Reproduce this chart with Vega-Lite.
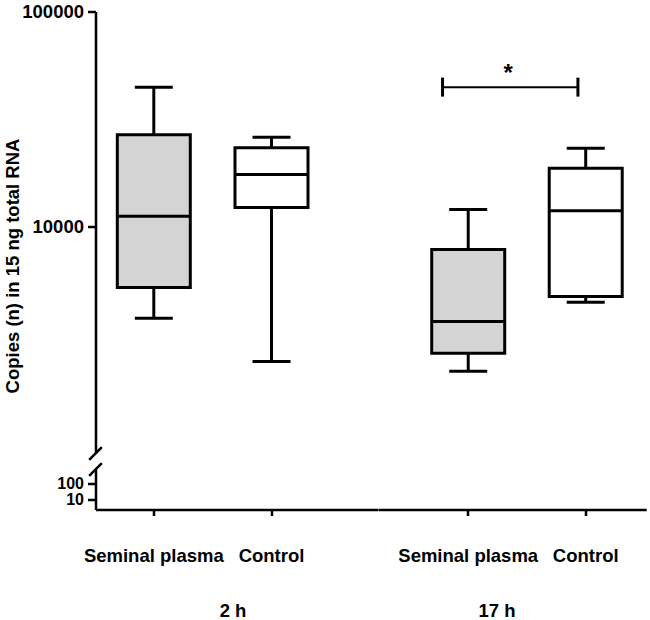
{
  "$schema": "https://vega.github.io/schema/vega-lite/v6.json",
  "background": "white",
  "padding": {"left": 3.5, "top": 2.5, "right": 0, "bottom": 0},
  "config": {
    "view": {"stroke": null},
    "font": "Liberation Sans",
    "axis": {
      "labelFont": "Liberation Sans", "labelFontWeight": "bold", "labelFontSize": 18.5, "labelColor": "black",
      "titleFont": "Liberation Sans", "titleFontWeight": "bold", "titleFontSize": 18.5, "titleColor": "black",
      "domainColor": "black", "domainWidth": 2.5, "tickColor": "black", "tickWidth": 2.5, "grid": false
    }
  },
  "datasets": {
    "boxes": [
      {"time": "2 h", "treatment": "Seminal plasma", "min": 3775, "q1": 5240, "median": 11220, "q3": 26790, "max": 44540},
      {"time": "2 h", "treatment": "Control", "min": 2376, "q1": 12315, "median": 17520, "q3": 23310, "max": 26100},
      {"time": "17 h", "treatment": "Seminal plasma", "min": 2142, "q1": 2597, "median": 3643, "q3": 7863, "max": 12055},
      {"time": "17 h", "treatment": "Control", "min": 4477, "q1": 4760, "median": 11890, "q3": 18750, "max": 23210}
    ],
    "sig": [
      {"time": "17 h", "from": "Seminal plasma", "to": "Control", "y": 44570, "label": "*"}
    ],
    "axisbreak": [
      {"mark": "axis break"}
    ]
  },
  "columns": 2,
  "spacing": {"row": 16, "column": 0},
  "bounds": "flush",
  "resolve": {"scale": {"x": "independent", "y": "independent", "fill": "independent"}},
  "concat": [
    {
      "width": 282.6,
      "height": 442,
      "layer": [
        {
          "data": {"name": "boxes"},
          "transform": [{"filter": "datum.time === '2 h'"}],
          "encoding": {
            "x": {"field": "treatment", "type": "nominal", "scale": {"type": "band", "domain": ["Seminal plasma", "Control"], "paddingInner": 0.35, "paddingOuter": 0.3755, "align": 0.2268}, "axis": null}
          },
          "layer": [
            {
              "mark": {"type": "rule", "strokeWidth": 3, "color": "black"},
              "encoding": {
                "y": {"field": "min", "type": "quantitative", "title": "Copies (n) in 15 ng total RNA",
                  "scale": {"type": "log", "domain": [889, 100000], "nice": false},
                  "axis": {"values": [10000, 100000], "format": "d", "tickSize": 8, "labelPadding": 4, "titlePadding": -1, "titleY": 254}},
                "y2": {"field": "max"}
              }
            },
            {
              "mark": {"type": "bar", "width": 73, "stroke": "black", "strokeWidth": 3},
              "encoding": {
                "y": {"field": "q1", "type": "quantitative", "title": "Copies (n) in 15 ng total RNA"},
                "y2": {"field": "q3"},
                "fill": {"field": "treatment", "type": "nominal", "scale": {"domain": ["Seminal plasma", "Control"], "range": ["#d4d4d4", "#ffffff"]}, "legend": null}
              }
            },
            {
              "mark": {"type": "tick", "size": 73, "thickness": 3, "color": "black", "opacity": 1},
              "encoding": {"y": {"field": "median", "type": "quantitative", "title": "Copies (n) in 15 ng total RNA"}}
            },
            {
              "mark": {"type": "tick", "size": 38, "thickness": 3, "color": "black", "opacity": 1},
              "encoding": {"y": {"field": "min", "type": "quantitative", "title": "Copies (n) in 15 ng total RNA"}}
            },
            {
              "mark": {"type": "tick", "size": 38, "thickness": 3, "color": "black", "opacity": 1},
              "encoding": {"y": {"field": "max", "type": "quantitative", "title": "Copies (n) in 15 ng total RNA"}}
            }
          ]
        },
        {
          "data": {"name": "axisbreak"},
          "mark": {"type": "point", "shape": "M-1,1L1,-1", "size": 160, "filled": false, "stroke": "black", "strokeWidth": 2.5, "opacity": 1},
          "encoding": {
            "x": {"datum": "Seminal plasma", "bandPosition": -0.262},
            "y": {"datum": 889, "type": "quantitative", "title": "Copies (n) in 15 ng total RNA"}
          }
        }
      ]
    },
    {
      "width": 267.7,
      "height": 442,
      "layer": [
        {
          "data": {"name": "boxes"},
          "transform": [{"filter": "datum.time === '17 h'"}],
          "layer": [
            {
              "mark": {"type": "rule", "strokeWidth": 3, "color": "black"},
              "encoding": {
                "x": {"field": "treatment", "type": "nominal", "scale": {"type": "band", "domain": ["Seminal plasma", "Control"], "paddingInner": 0.35, "paddingOuter": 0.3141, "align": 0.698}, "axis": null},
                "y": {"field": "min", "type": "quantitative", "scale": {"type": "log", "domain": [889, 100000], "nice": false}, "axis": null},
                "y2": {"field": "max"}
              }
            },
            {
              "mark": {"type": "bar", "width": 73, "stroke": "black", "strokeWidth": 3},
              "encoding": {
                "x": {"field": "treatment", "type": "nominal"},
                "y": {"field": "q1", "type": "quantitative"},
                "y2": {"field": "q3"},
                "fill": {"field": "treatment", "type": "nominal", "scale": {"domain": ["Seminal plasma", "Control"], "range": ["#d4d4d4", "#ffffff"]}, "legend": null}
              }
            },
            {
              "mark": {"type": "tick", "size": 73, "thickness": 3, "color": "black", "opacity": 1},
              "encoding": {"x": {"field": "treatment", "type": "nominal"}, "y": {"field": "median", "type": "quantitative"}}
            },
            {
              "mark": {"type": "tick", "size": 38, "thickness": 3, "color": "black", "opacity": 1},
              "encoding": {"x": {"field": "treatment", "type": "nominal"}, "y": {"field": "min", "type": "quantitative"}}
            },
            {
              "mark": {"type": "tick", "size": 38, "thickness": 3, "color": "black", "opacity": 1},
              "encoding": {"x": {"field": "treatment", "type": "nominal"}, "y": {"field": "max", "type": "quantitative"}}
            }
          ]
        },
        {
          "data": {"name": "sig"},
          "layer": [
            {
              "mark": {"type": "rule", "strokeWidth": 2, "color": "black"},
              "encoding": {
                "x": {"field": "from", "type": "nominal", "bandPosition": 0.164},
                "x2": {"field": "to", "bandPosition": 0.398},
                "y": {"field": "y", "type": "quantitative"}
              }
            },
            {
              "mark": {"type": "tick", "orient": "vertical", "size": 19, "thickness": 3, "color": "black", "opacity": 1},
              "encoding": {
                "x": {"field": "from", "type": "nominal", "bandPosition": 0.164},
                "y": {"field": "y", "type": "quantitative"}
              }
            },
            {
              "mark": {"type": "tick", "orient": "vertical", "size": 19, "thickness": 3, "color": "black", "opacity": 1},
              "encoding": {
                "x": {"field": "to", "type": "nominal", "bandPosition": 0.398},
                "y": {"field": "y", "type": "quantitative"}
              }
            },
            {
              "mark": {"type": "text", "fontSize": 24, "fontWeight": "bold", "font": "Liberation Sans", "baseline": "alphabetic", "dy": -6, "color": "black"},
              "encoding": {
                "x": {"field": "from", "type": "nominal", "bandPosition": 1.024},
                "y": {"field": "y", "type": "quantitative"},
                "text": {"field": "label"}
              }
            }
          ]
        }
      ]
    },
    {
      "width": 282.6,
      "height": 40,
      "layer": [
        {
          "data": {"name": "boxes"},
          "transform": [{"filter": "datum.time === '2 h'"}],
          "mark": {"type": "point", "opacity": 0, "clip": true},
          "encoding": {
            "x": {"field": "treatment", "type": "nominal", "title": "2 h",
              "scale": {"type": "band", "domain": ["Seminal plasma", "Control"], "paddingInner": 0.35, "paddingOuter": 0.3755, "align": 0.2268},
              "axis": {"labelAngle": 0, "tickSize": 6, "labelPadding": 31, "titlePadding": 36, "titleX": 137}},
            "y": {"field": "median", "type": "quantitative", "title": null,
              "scale": {"type": "log", "domain": [2.33, 692], "nice": false},
              "axis": {"values": [10, 100], "format": "d", "tickSize": 8, "labelPadding": 4, "labelFontSize": 16}}
          }
        },
        {
          "data": {"name": "axisbreak"},
          "mark": {"type": "point", "shape": "M-1,1L1,-1", "size": 160, "filled": false, "stroke": "black", "strokeWidth": 2.5, "opacity": 1},
          "encoding": {
            "x": {"datum": "Seminal plasma", "bandPosition": -0.262},
            "y": {"datum": 692, "type": "quantitative"}
          }
        }
      ]
    },
    {
      "width": 267.7,
      "height": 40,
      "data": {"name": "boxes"},
      "transform": [{"filter": "datum.time === '17 h'"}],
      "mark": {"type": "point", "opacity": 0, "clip": true},
      "encoding": {
        "x": {"field": "treatment", "type": "nominal", "title": "17 h",
          "scale": {"type": "band", "domain": ["Seminal plasma", "Control"], "paddingInner": 0.35, "paddingOuter": 0.3141, "align": 0.698},
          "axis": {"labelAngle": 0, "tickSize": 6, "labelPadding": 31, "titlePadding": 36, "titleX": 118}},
        "y": {"field": "median", "type": "quantitative", "scale": {"type": "log", "domain": [2.33, 692], "nice": false}, "axis": null}
      }
    }
  ]
}
